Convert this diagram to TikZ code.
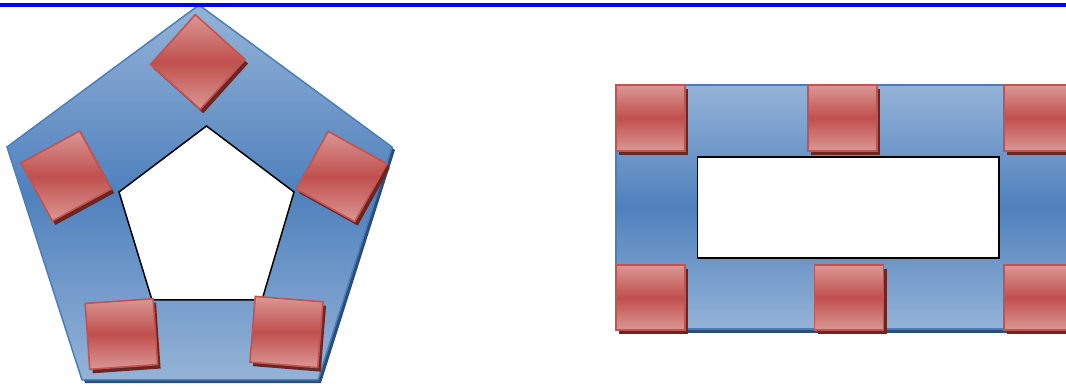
\documentclass[tikz,border=0pt]{standalone}
\definecolor{bluelight}{HTML}{95B3D7}
\definecolor{bluedark}{HTML}{4F81BD}
\definecolor{blueedge}{HTML}{4A7EBB}
\definecolor{blueshadow}{HTML}{2C4D75}
\definecolor{redlight}{HTML}{DA9795}
\definecolor{redmid}{HTML}{C0504D}
\definecolor{rededge}{HTML}{C4524F}
\definecolor{redshadow}{HTML}{6B2523}
\tikzset{
  ring/.style={draw=blueedge, line width=1.5pt, top color=bluelight, bottom color=bluelight, middle color=bluedark},
  ringshadow/.style={fill=blueshadow},
  hole/.style={fill=white, draw=black, line width=1.5pt},
  tilebox/.style={draw=rededge, line width=1.6pt, top color=redlight, bottom color=redlight, middle color=redmid},
  tileshadow/.style={fill=redshadow},
  topline/.style={draw=blue, line width=3.4pt}
}
% #1 cx, #2 cy, #3 angle, #4 half width, #5 half height
\newcommand\redtile[5]{%
  \begin{scope}[shift={(#1+3,#2+4)},rotate=#3]
    \fill[tileshadow] (-#4,-#5) rectangle (#4,#5);
  \end{scope}
  \begin{scope}[shift={(#1,#2)},rotate=#3]
    \path[tilebox] (-#4,-#5) rectangle (#4,#5);
  \end{scope}}
\begin{document}
\begin{tikzpicture}[x=1pt,y=-1pt]
\useasboundingbox (0,0) rectangle (1066,387);
\clip (0,0) rectangle (1066,387);
% pentagon ring
\coordinate (p1) at (199,5);
\coordinate (p2) at (392,147);
\coordinate (p3) at (318,380);
\coordinate (p4) at (82,380);
\coordinate (p5) at (7,147);
\fill[ringshadow] ([shift={(3,3)}]p1) -- ([shift={(3,3)}]p2) -- ([shift={(3,3)}]p3) -- ([shift={(3,3)}]p4) -- ([shift={(3,3)}]p5) -- cycle;
\path[ring] (p1) -- (p2) -- (p3) -- (p4) -- (p5) -- cycle;
\coordinate (q1) at (206.5,126);
\coordinate (q2) at (294,192);
\coordinate (q3) at (262,300);
\coordinate (q4) at (152,300);
\coordinate (q5) at (119,192);
\path[hole] (q1) -- (q2) -- (q3) -- (q4) -- (q5) -- cycle;
\redtile{197.8}{62}{-42}{33.5}{33.5}
\redtile{66}{176}{28.5}{33.5}{33}
\redtile{341.5}{176.5}{-29}{33.5}{33}
\redtile{121.4}{334}{4}{34}{33}
\redtile{286.5}{332}{-4.6}{34}{33}
% rectangle ring
\coordinate (r1) at (616,85);
\coordinate (r2) at (1080,329);
\fill[ringshadow] ([shift={(3,4)}]r1) rectangle ([shift={(3,4)}]r2);
\path[ring] (r1) rectangle (r2);
\coordinate (s1) at (697.5,157);
\coordinate (s2) at (999,258);
\path[hole] (s1) rectangle (s2);
\redtile{650.5}{118}{0}{34.5}{33}
\redtile{842.5}{118}{0}{34.5}{33}
\redtile{1038.5}{118}{0}{34.5}{33}
\redtile{650.5}{297.5}{0}{34.5}{32.5}
\redtile{849}{297.5}{0}{34.5}{32.5}
\redtile{1038.5}{297.5}{0}{34.5}{32.5}
% top line
\coordinate (l1) at (0,5);
\coordinate (l2) at (1066,5);
\path[topline] (l1) -- (l2);
\end{tikzpicture}
\end{document}
